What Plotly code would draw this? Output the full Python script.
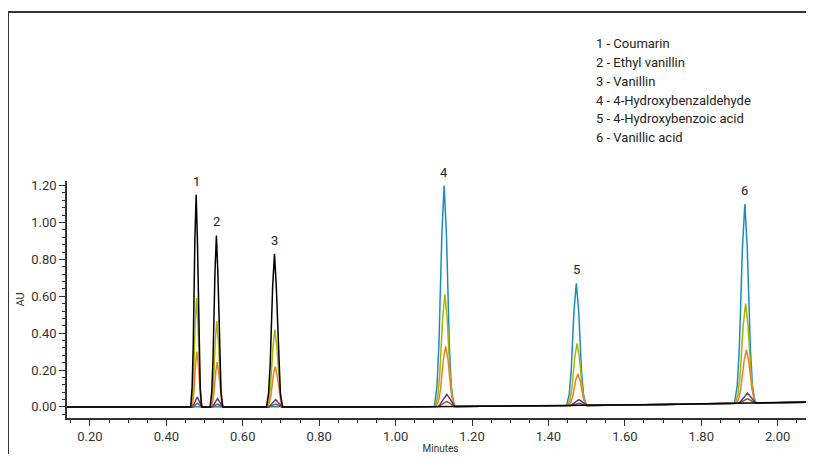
import plotly.graph_objects as go

# ---------------- data ----------------
# common slow baseline drift (minutes, AU)
base_t = [0.14, 1.00, 1.30, 1.70, 2.095]
base_au = [0.0, 0.0, 0.005, 0.013, 0.027]

black_t = [0.4636, 0.4674, 0.4703, 0.4746, 0.4780, 0.4814, 0.4857, 0.4886, 0.4924,
           0.5145, 0.5189, 0.5222, 0.5272, 0.5310, 0.5349, 0.5398, 0.5431, 0.5475,
           0.6620, 0.6676, 0.6718, 0.6781, 0.6830, 0.6879, 0.6942, 0.6984, 0.7040]
black_au = [0, 0.104, 0.322, 0.897, 1.150, 0.897, 0.322, 0.104, 0,
            0, 0.084, 0.260, 0.725, 0.930, 0.725, 0.260, 0.084, 0,
            0, 0.075, 0.232, 0.647, 0.830, 0.647, 0.232, 0.075, 0]

blue_t = [1.1015, 1.1083, 1.1134, 1.1210, 1.1270, 1.1330, 1.1406, 1.1457, 1.1525,
          1.4475, 1.4543, 1.4594, 1.4670, 1.4730, 1.4790, 1.4866, 1.4917, 1.4985,
          1.8870, 1.8942, 1.8996, 1.9077, 1.9140, 1.9203, 1.9284, 1.9338, 1.9410]
blue_au = [0.003, 0.111, 0.338, 0.937, 1.200, 0.937, 0.338, 0.111, 0.003,
           0.008, 0.068, 0.193, 0.524, 0.670, 0.524, 0.193, 0.068, 0.008,
           0.020, 0.117, 0.322, 0.862, 1.100, 0.862, 0.322, 0.117, 0.020]

olive_t = [0.4646, 0.4684, 0.4713, 0.4756, 0.4790, 0.4824, 0.4867, 0.4896, 0.4934,
           0.5155, 0.5199, 0.5232, 0.5282, 0.5320, 0.5359, 0.5408, 0.5441, 0.5485,
           0.6630, 0.6686, 0.6728, 0.6791, 0.6840, 0.6889, 0.6952, 0.6994, 0.7050,
           1.1035, 1.1103, 1.1154, 1.1230, 1.1290, 1.1350, 1.1426, 1.1477, 1.1545,
           1.4495, 1.4563, 1.4614, 1.4690, 1.4750, 1.4810, 1.4886, 1.4937, 1.5005,
           1.8890, 1.8962, 1.9016, 1.9097, 1.9160, 1.9223, 1.9304, 1.9358, 1.9430]
olive_au = [0, 0.053, 0.165, 0.460, 0.590, 0.460, 0.165, 0.053, 0,
            0, 0.042, 0.130, 0.363, 0.465, 0.363, 0.130, 0.042, 0,
            0, 0.038, 0.118, 0.328, 0.420, 0.328, 0.118, 0.038, 0,
            0.003, 0.058, 0.172, 0.477, 0.610, 0.477, 0.172, 0.058, 0.003,
            0.008, 0.038, 0.102, 0.271, 0.345, 0.271, 0.102, 0.038, 0.008,
            0.020, 0.069, 0.171, 0.441, 0.560, 0.441, 0.171, 0.069, 0.020]

orange_t = [0.4656, 0.4694, 0.4723, 0.4766, 0.4800, 0.4834, 0.4877, 0.4906, 0.4944,
            0.5165, 0.5209, 0.5242, 0.5292, 0.5330, 0.5369, 0.5418, 0.5451, 0.5495,
            0.6640, 0.6696, 0.6738, 0.6801, 0.6850, 0.6899, 0.6962, 0.7004, 0.7060,
            1.1055, 1.1123, 1.1174, 1.1250, 1.1310, 1.1370, 1.1446, 1.1497, 1.1565,
            1.4515, 1.4583, 1.4634, 1.4710, 1.4770, 1.4830, 1.4906, 1.4957, 1.5025,
            1.8910, 1.8982, 1.9036, 1.9117, 1.9180, 1.9243, 1.9324, 1.9378, 1.9450]
orange_au = [0, 0.027, 0.084, 0.234, 0.300, 0.234, 0.084, 0.027, 0,
             0, 0.022, 0.068, 0.190, 0.243, 0.190, 0.068, 0.022, 0,
             0, 0.020, 0.062, 0.172, 0.220, 0.172, 0.062, 0.020, 0,
             0.003, 0.032, 0.094, 0.258, 0.330, 0.258, 0.094, 0.032, 0.003,
             0.008, 0.024, 0.056, 0.142, 0.180, 0.142, 0.056, 0.024, 0.008,
             0.020, 0.046, 0.101, 0.246, 0.310, 0.246, 0.101, 0.046, 0.020]

purple_t = [0.4690, 0.4762, 0.4810, 0.4858, 0.4930,
            0.5203, 0.5285, 0.5340, 0.5395, 0.5478,
            0.6685, 0.6790, 0.6860, 0.6930, 0.7035,
            1.1128, 1.1255, 1.1340, 1.1425, 1.1553,
            1.4588, 1.4715, 1.4800, 1.4885, 1.5013,
            1.8985, 1.9120, 1.9210, 1.9300, 1.9435]
purple_au = [0, 0.032, 0.054, 0.032, 0,
             0, 0.027, 0.045, 0.027, 0,
             0, 0.024, 0.040, 0.024, 0,
             0.003, 0.042, 0.068, 0.042, 0.003,
             0.008, 0.027, 0.040, 0.027, 0.008,
             0.020, 0.053, 0.075, 0.053, 0.020]

brown_t = purple_t
brown_au = [0, 0.012, 0.020, 0.012, 0,
            0, 0.009, 0.015, 0.009, 0,
            0, 0.009, 0.015, 0.009, 0,
            0.003, 0.019, 0.030, 0.019, 0.003,
            0.008, 0.015, 0.020, 0.015, 0.008,
            0.020, 0.035, 0.045, 0.035, 0.020]

peak_labels = ["1", "2", "3", "4", "5", "6"]
peak_t = [0.478, 0.531, 0.683, 1.127, 1.473, 1.914]
peak_au = [1.150, 0.930, 0.830, 1.200, 0.670, 1.100]

legend_lines = ["1 - Coumarin", "2 - Ethyl vanillin", "3 - Vanillin",
                "4 - 4-Hydroxybenzaldehyde", "5 - 4-Hydroxybenzoic acid",
                "6 - Vanillic acid"]

x_ticks = [0.20, 0.40, 0.60, 0.80, 1.00, 1.20, 1.40, 1.60, 1.80, 2.00]
y_ticks = [0.00, 0.20, 0.40, 0.60, 0.80, 1.00, 1.20]

FONT = "Roboto, sans-serif"


def merged(t, a):
    pts = sorted(list(zip(base_t, base_au)) + list(zip(t, a)))
    return [p[0] for p in pts], [p[1] for p in pts]


fig = go.Figure()
series = [
    (blue_t, blue_au, "#1c8cbf"),
    (olive_t, olive_au, "#aab400"),
    (orange_t, orange_au, "#e5822a"),
    (brown_t, brown_au, "#8a5a2a"),
    (purple_t, purple_au, "#5a3c8e"),
    (black_t, black_au, "#000000"),
]
for t, a, col in series:
    xs, ys = merged(t, a)
    fig.add_trace(go.Scatter(x=xs, y=ys, mode="lines",
                             line=dict(color=col, width=1.5),
                             hoverinfo="skip", showlegend=False))

for lab, t, a in zip(peak_labels, peak_t, peak_au):
    fig.add_annotation(x=t, y=a, text=lab, showarrow=False, xanchor="center",
                       yanchor="bottom", yshift=4,
                       font=dict(family=FONT, size=13, color="#222"))

for i, line in enumerate(legend_lines):
    fig.add_annotation(xref="paper", yref="paper", x=0.7055, y=1.58 - i * 0.0795,
                       text=line, showarrow=False, xanchor="left", yanchor="middle",
                       font=dict(family=FONT, size=13, color="#222"))

# frame lines (left and top) of the figure box
fig.add_shape(type="line", xref="paper", yref="paper", x0=-0.079, x1=-0.079,
              y0=-0.25, y1=1.713, line=dict(color="#333", width=2))
fig.add_shape(type="line", xref="paper", yref="paper", x0=-0.079, x1=1.02,
              y0=1.713, y1=1.713, line=dict(color="#333", width=2))

fig.update_layout(
    width=806, height=446, autosize=False,
    margin=dict(l=59, r=0, t=173, b=36),
    plot_bgcolor="white", paper_bgcolor="white",
    font=dict(family=FONT, size=13, color="#333"),
    xaxis=dict(range=[0.14, 2.095], tickvals=x_ticks, ticktext=[f"{v:.2f}" for v in x_ticks],
               showline=True, linecolor="#333", linewidth=1.5, showgrid=False, zeroline=False,
               ticks="outside", ticklen=6, tickwidth=1.2, tickcolor="#333",
               minor=dict(dtick=0.05, tick0=0.0, ticks="outside", ticklen=3, tickcolor="#333"),
               title=dict(text="Minutes", font=dict(size=10, family=FONT, color="#333"), standoff=2),
               tickfont=dict(size=13, family=FONT, color="#333")),
    yaxis=dict(range=[-0.06, 1.225], tickvals=y_ticks, ticktext=[f"{v:.2f}" for v in y_ticks],
               showline=True, linecolor="#333", linewidth=1.5, showgrid=False, zeroline=False,
               ticks="outside", ticklen=6, tickwidth=1.2, tickcolor="#333",
               minor=dict(dtick=0.04, tick0=0.0, ticks="outside", ticklen=3, tickcolor="#333"),
               title=dict(text="AU", font=dict(size=11, family=FONT, color="#333"), standoff=4),
               tickfont=dict(size=13, family=FONT, color="#333")),
)

fig.write_html("out.html")
